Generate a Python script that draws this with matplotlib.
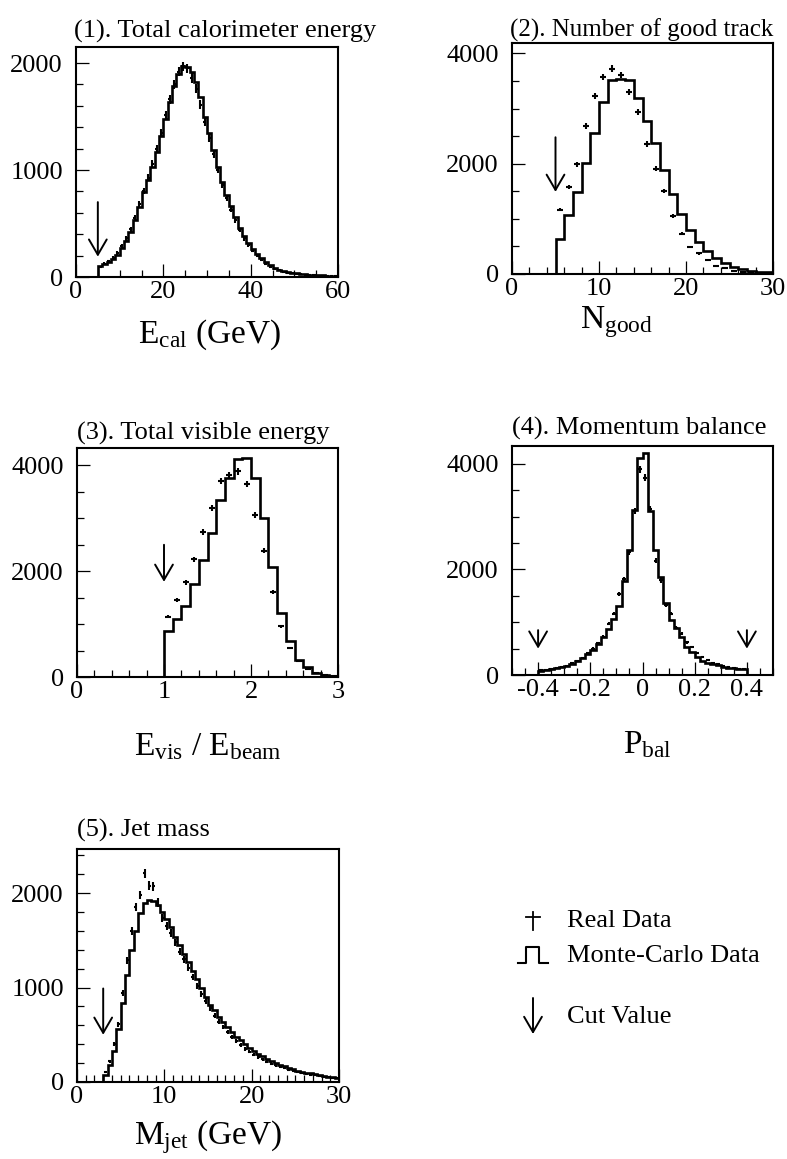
import numpy as np
import matplotlib
matplotlib.use('Agg')
from matplotlib import pyplot as plt

plt.rcParams['font.family'] = ['Liberation Serif', 'DejaVu Serif']
plt.rcParams['mathtext.fontset'] = 'custom'
plt.rcParams['mathtext.rm'] = 'Liberation Serif'
plt.rcParams['mathtext.it'] = 'Liberation Serif:italic'
plt.rcParams['mathtext.bf'] = 'Liberation Serif:bold'

W, H = 787, 1159

# (1) total calorimeter energy, 1 GeV bins from 5 to 60
ecal_range = (5, 60)
ecal_mc = [100, 118, 140, 170, 210, 270, 340, 420, 530, 655, 790, 910, 1030, 1170, 1320,
           1480, 1640, 1790, 1900, 1975, 1960, 1920, 1820, 1680, 1500, 1350, 1190, 1030, 890, 770,
           660, 560, 460, 380, 320, 265, 215, 175, 140, 110, 88, 70, 57, 47, 40,
           35, 30, 26, 22, 19, 17, 15, 13, 12, 11]
ecal_data = [95, 125, 150, 180, 225, 290, 360, 445, 555, 680, 800, 930, 1060, 1200, 1350,
             1510, 1660, 1800, 1920, 1970, 1950, 1860, 1760, 1610, 1450, 1300, 1150, 1000, 860, 740,
             630, 530, 440, 360, 300, 245, 200, 160, 125, 98, 78, 62, 50, 41, 34,
             28, 24, 20, 17, 15, 13, 11, 10, 9, 8]

# (2) number of good tracks, bins of 1 from 5 to 30
ngood_range = (5, 30)
ngood_mc = [640, 1065, 1487, 2010, 2565, 3112, 3520, 3545, 3515, 3200, 2780, 2370, 1890,
            1457, 1095, 806, 572, 421, 295, 193, 132, 84, 60, 42, 30]
ngood_data = [1168, 1577, 1987, 2690, 3233, 3575, 3726, 3612, 3305, 2944, 2360, 1908, 1505,
              1053, 734, 494, 373, 253, 144, 100, 60, 40, 25, 18, 12]

# (3) visible energy / beam energy, bins of 0.1 from 1 to 3
evis_range = (1.0, 3.0)
evis_mc = [879, 1099, 1350, 1758, 2211, 2725, 3353, 3768, 4120, 4145,
           3768, 3008, 2072, 1206, 684, 327, 188, 75, 44, 25]
evis_data = [1143, 1457, 1790, 2230, 2744, 3203, 3705, 3812, 3887, 3655,
             3058, 2386, 1614, 955, 546, 295, 150, 75, 38, 20]

# (4) momentum balance, bins of 0.02 from -0.4 to 0.4
pbal_range = (-0.4, 0.4)
pbal_mc = [85, 95, 107, 125, 150, 180, 215, 260, 320, 390, 480, 590, 720, 880, 1060,
           1300, 1790, 2360, 3120, 4120,
           4200, 3113, 2371, 1855, 1365, 1038, 899, 723, 534, 428, 346, 270, 233, 208, 182,
           157, 138, 126, 113, 107]
pbal_data = [88, 100, 112, 128, 150, 180, 220, 265, 330, 421, 500, 598, 723, 975, 1164,
             1541, 1824, 2327, 3113, 3900,
             3743, 3145, 2170, 1793, 1330, 1164, 900, 786, 620, 535, 420, 345, 275, 235, 200,
             170, 150, 130, 115, 105]

# (5) jet mass, 0.5 GeV bins from 3 to 30
mjet_range = (3, 30)
mjet_mc = [70, 175, 330, 560, 840, 1130, 1400, 1600, 1790, 1900, 1925, 1920, 1870, 1800,
           1730, 1640, 1540, 1450, 1360, 1270, 1180, 1090, 1000, 900, 820, 760, 690, 640,
           580, 530, 480, 440, 400, 360, 330, 300, 270, 245, 220, 200, 180, 165, 150, 135,
           120, 110, 100, 90, 80, 72, 64, 56, 48, 40]
mjet_data = [110, 220, 400, 610, 940, 1290, 1600, 1850, 1980, 2210, 2080, 2070, 1900, 1740,
             1650, 1580, 1480, 1380, 1300, 1210, 1110, 1020, 930, 860, 780, 700, 640, 580,
             530, 480, 430, 390, 350, 320, 290, 265, 240, 215, 195, 175, 160, 145, 130, 118,
             106, 96, 87, 78, 70, 63, 56, 50, 44, 38]

fig = plt.figure(figsize=(W / 100, H / 100), dpi=100)


def px_axes(l, t, r, b):
    return fig.add_axes([l / W, 1 - b / H, (r - l) / W, (b - t) / H])


def draw_cut(ax, x, y0, y1):
    ax.annotate('', xy=(x, y1), xytext=(x, y0),
                arrowprops=dict(arrowstyle='->,head_length=0.55,head_width=0.32',
                                lw=1.4, color='k', mutation_scale=20,
                                shrinkA=0, shrinkB=0))


def panel(box, rng, mc, data, xlim, ylim, xmajor, xminor, ymajor, yminor,
          title, title_dx, title_dy, title_size, xlabel, xlabel_x, xlabel_dy, cuts, cut_span,
          xticklabels=None):
    ax = px_axes(*box)
    h_px = box[3] - box[1]
    w_px = box[2] - box[0]
    edges = np.linspace(rng[0], rng[1], len(mc) + 1)
    centres = 0.5 * (edges[:-1] + edges[1:])
    widths = np.diff(edges)
    data = np.asarray(data, dtype=float)

    ax.stairs(mc, edges, baseline=0, color='k', lw=1.9)
    ax.errorbar(centres, data, xerr=0.35 * widths, yerr=np.sqrt(data), fmt='none',
                ecolor='k', elinewidth=1.5, capsize=0)
    for c in cuts:
        draw_cut(ax, c, cut_span[0], cut_span[1])

    ax.set_xlim(*xlim)
    ax.set_ylim(*ylim)
    ax.set_xticks(xmajor)
    ax.set_xticks(xminor, minor=True)
    ax.set_yticks(ymajor)
    ax.set_yticks(yminor, minor=True)
    if xticklabels is not None:
        ax.set_xticklabels(xticklabels)
    ax.tick_params(which='both', direction='in', top=False, right=False,
                   labelsize=19, width=0.9)
    ax.tick_params(which='major', length=9.5)
    ax.tick_params(which='minor', length=5)
    ax.tick_params(axis='x', pad=3)
    ax.tick_params(axis='y', pad=9.5)
    for sp in ax.spines.values():
        sp.set_linewidth(1.5)

    ax.text(title_dx / w_px, 1 + title_dy / h_px, title, transform=ax.transAxes,
            ha='left', va='baseline', fontsize=title_size)
    ax.text(xlabel_x, -xlabel_dy / h_px, xlabel, transform=ax.transAxes,
            ha='center', va='baseline', fontsize=24)
    return ax


panel((76, 47, 338, 277), ecal_range, ecal_mc, ecal_data, (0, 60), (0, 2150),
      [0, 20, 40, 60], np.arange(0, 61, 5), [0, 1000, 2000], np.arange(0, 2150, 200),
      '(1). Total calorimeter energy', -2, 9.7, 19,
      r'$\mathrm{E_{cal}}$ (GeV)', 0.51, 66, [5], (700, 190))

panel((512, 43, 773, 274), ngood_range, ngood_mc, ngood_data, (0, 30), (0, 4190),
      [0, 10, 20, 30], np.arange(0, 31, 2), [0, 2000, 4000], np.arange(0, 4190, 500),
      '(2). Number of good track', -2, 6, 18,
      r'$\mathrm{N_{good}}$', 0.4, 54, [5], (2480, 1490))

panel((77, 448, 338, 677), evis_range, evis_mc, evis_data, (0, 3), (0, 4330),
      [0, 1, 2, 3], np.arange(0, 3.01, 0.2), [0, 2000, 4000], np.arange(0, 4330, 500),
      '(3). Total visible energy', 0, 8.7, 19,
      r'$\mathrm{E_{vis}}$ / $\mathrm{E_{beam}}$', 0.5, 78, [1.0], (2500, 1800))

panel((512, 446, 773, 675), pbal_range, pbal_mc, pbal_data, (-0.5, 0.5), (0, 4340),
      [-0.4, -0.2, 0, 0.2, 0.4], np.arange(-0.5, 0.501, 0.05), [0, 2000, 4000],
      np.arange(0, 4340, 500),
      '(4). Momentum balance', 0, 11.7, 19,
      r'$\mathrm{P_{bal}}$', 0.52, 78, [-0.4, 0.4], (850, 500),
      xticklabels=['-0.4', '-0.2', '0', '0.2', '0.4'])

panel((77, 849, 339, 1082), mjet_range, mjet_mc, mjet_data, (0, 30), (0, 2467),
      [0, 10, 20, 30], np.arange(0, 31, 1), [0, 1000, 2000], np.arange(0, 2467, 200),
      '(5). Jet mass', 0, 12.6, 19,
      r'$\mathrm{M_{jet}}$ (GeV)', 0.5, 62, [3], (990, 500))

# legend drawn on a transparent overlay in pixel coordinates
ov = fig.add_axes([0, 0, 1, 1])
ov.set_xlim(0, W)
ov.set_ylim(H, 0)
ov.axis('off')
ov.plot([533, 533], [912, 930], color='k', lw=1.3)
ov.plot([526, 540], [917, 917], color='k', lw=1.3)
ov.plot([518, 526, 526, 539, 539, 548], [963, 963, 947, 947, 963, 963], color='k', lw=1.5)
ov.annotate('', xy=(533, 1034), xytext=(533, 998),
            arrowprops=dict(arrowstyle='->,head_length=0.55,head_width=0.32',
                            lw=1.4, color='k', mutation_scale=20, shrinkA=0, shrinkB=0))
ov.text(567, 927, 'Real Data', fontsize=19, va='baseline', ha='left')
ov.text(567, 962, 'Monte-Carlo Data', fontsize=19, va='baseline', ha='left')
ov.text(567, 1023, 'Cut Value', fontsize=19, va='baseline', ha='left')

fig.savefig('out.png', dpi=100)
